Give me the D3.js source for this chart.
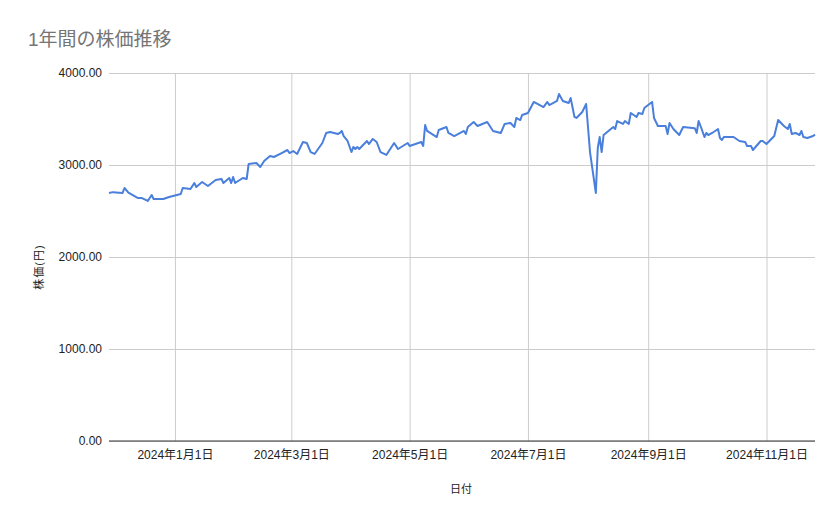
<!DOCTYPE html>
<html>
<head>
<meta charset="utf-8">
<script src="https://cdn.jsdelivr.net/npm/d3@7"></script>
<style>
  body { margin: 0; background: #fff; }
  text { font-family: "Liberation Sans", Arial, "Noto Sans CJK JP", sans-serif; }
</style>
</head>
<body>
<div id="chart"></div>
<script>
// 1年間の株価推移
var chartTitle = "1年間の株価推移";
var xTitle = "日付";
var yTitle = "株価(円)";

var dates = [
  "2023-11-28","2023-11-30","2023-12-05","2023-12-06","2023-12-08","2023-12-13","2023-12-15","2023-12-18",
  "2023-12-20","2023-12-21","2023-12-26","2023-12-29","2024-01-04","2024-01-05","2024-01-09","2024-01-11",
  "2024-01-12","2024-01-15","2024-01-18","2024-01-22","2024-01-25","2024-01-26","2024-01-29","2024-01-30",
  "2024-01-31","2024-02-01","2024-02-05","2024-02-07","2024-02-08","2024-02-12","2024-02-14","2024-02-16",
  "2024-02-19","2024-02-21","2024-02-25","2024-02-28","2024-02-29","2024-03-02","2024-03-04","2024-03-07",
  "2024-03-09","2024-03-11","2024-03-13","2024-03-17","2024-03-19","2024-03-21","2024-03-25","2024-03-26",
  "2024-03-27","2024-03-28","2024-03-30","2024-04-01","2024-04-02","2024-04-03","2024-04-04","2024-04-05",
  "2024-04-09","2024-04-10","2024-04-12","2024-04-14","2024-04-16","2024-04-19","2024-04-23","2024-04-25",
  "2024-04-30","2024-05-01","2024-05-07","2024-05-08","2024-05-09","2024-05-10","2024-05-15","2024-05-16",
  "2024-05-20","2024-05-21","2024-05-24","2024-05-29","2024-05-30","2024-05-31","2024-06-03","2024-06-05",
  "2024-06-10","2024-06-13","2024-06-17","2024-06-19","2024-06-22","2024-06-24","2024-06-25","2024-06-27",
  "2024-06-28","2024-07-01","2024-07-04","2024-07-09","2024-07-11","2024-07-12","2024-07-16","2024-07-17",
  "2024-07-19","2024-07-22","2024-07-23","2024-07-25","2024-07-26","2024-07-29","2024-07-31","2024-08-02",
  "2024-08-05","2024-08-06","2024-08-07","2024-08-08","2024-08-09","2024-08-14","2024-08-15","2024-08-16",
  "2024-08-19","2024-08-20","2024-08-22","2024-08-23","2024-08-26","2024-08-27","2024-08-29","2024-08-30",
  "2024-09-03","2024-09-04","2024-09-06","2024-09-10","2024-09-11","2024-09-12","2024-09-14","2024-09-17",
  "2024-09-19","2024-09-25","2024-09-26","2024-09-27","2024-09-28","2024-09-30","2024-10-01","2024-10-02",
  "2024-10-04","2024-10-07","2024-10-08","2024-10-09","2024-10-10","2024-10-15","2024-10-18","2024-10-21",
  "2024-10-22","2024-10-24","2024-10-25","2024-10-29","2024-10-30","2024-11-01","2024-11-05","2024-11-07",
  "2024-11-10","2024-11-12","2024-11-13","2024-11-14","2024-11-16","2024-11-18","2024-11-19","2024-11-20",
  "2024-11-22","2024-11-25","2024-11-26"
];

var prices = [
  2696,2705,2696,2750,2700,2641,2641,2609,
  2674,2630,2630,2652,2685,2750,2739,2804,
  2761,2815,2772,2837,2848,2804,2859,2804,
  2870,2804,2859,2848,3011,3022,2978,3043,
  3098,3087,3130,3163,3130,3152,3120,3250,
  3239,3141,3120,3239,3348,3359,3337,3348,
  3370,3315,3261,3141,3196,3174,3196,3174,
  3261,3228,3283,3250,3141,3109,3239,3174,
  3239,3207,3250,3207,3435,3370,3304,3380,
  3413,3348,3315,3370,3337,3413,3467,3424,
  3467,3370,3348,3446,3457,3413,3511,3489,
  3543,3565,3685,3630,3685,3652,3696,3772,
  3696,3674,3728,3522,3511,3576,3663,3141,
  2696,3185,3304,3141,3326,3413,3391,3478,
  3446,3478,3446,3565,3522,3565,3554,3620,
  3685,3511,3424,3424,3337,3457,3391,3326,
  3413,3400,3348,3478,3424,3304,3348,3326,
  3348,3391,3293,3272,3304,3304,3261,3250,
  3207,3207,3163,3261,3261,3228,3315,3489,
  3424,3391,3446,3337,3348,3326,3370,3304,
  3293,3315,3330
];

var yTicks = [0, 1000, 2000, 3000, 4000];

var W = 839, H = 519;
var parse = d3.timeParse("%Y-%m-%d");
var data = dates.map(function(d, i){ return { date: parse(d), price: prices[i] }; });

var svg = d3.select("#chart").append("svg").attr("width", W).attr("height", H);

var x = d3.scaleTime()
    .domain([parse("2023-11-28"), parse("2024-11-26")])
    .range([109, 815]);
var y = d3.scaleLinear().domain([0, 4000]).range([441, 73]);

// title
svg.append("text")
    .attr("x", 28).attr("y", 46)
    .attr("fill", "#757575")
    .style("font-size", "19px")
    .text(chartTitle);

// horizontal grid + labels
var yAxis = svg.append("g").attr("transform", "translate(109,0)")
    .call(d3.axisLeft(y).tickValues(yTicks).tickFormat(d3.format(".2f"))
        .tickSize(-706).tickPadding(7));
yAxis.select(".domain").remove();
yAxis.selectAll(".tick line").attr("stroke", "#cccccc");
yAxis.selectAll(".tick text").attr("fill", "#222").style("font-size", "12px");

// vertical grid + labels
var fmt = function(d){ return d.getFullYear() + "年" + (d.getMonth() + 1) + "月" + d.getDate() + "日"; };
var xAxis = svg.append("g").attr("transform", "translate(0,441)")
    .call(d3.axisBottom(x).ticks(d3.timeMonth.filter(function(d){ return d.getMonth() % 2 === 0; }))
        .tickFormat(fmt).tickSize(-368).tickPadding(9));
xAxis.select(".domain").remove();
xAxis.selectAll(".tick line").attr("stroke", "#cccccc");
xAxis.selectAll(".tick text").attr("fill", "#222").style("font-size", "12px");

// baseline
svg.append("line")
    .attr("x1", 109).attr("x2", 815)
    .attr("y1", y(0)).attr("y2", y(0))
    .attr("stroke", "#333").attr("stroke-width", 1);

// price line
var line = d3.line()
    .x(function(d){ return x(d.date); })
    .y(function(d){ return y(d.price); });

svg.append("path")
    .datum(data)
    .attr("d", line)
    .attr("fill", "none")
    .attr("stroke", "#4a7fdb")
    .attr("stroke-width", 2)
    .attr("stroke-linejoin", "round");

// axis titles
svg.append("text")
    .attr("x", 461).attr("y", 493)
    .attr("text-anchor", "middle")
    .attr("fill", "#222")
    .style("font-size", "11px")
    .text(xTitle);

svg.append("text")
    .attr("transform", "translate(43,267) rotate(-90)")
    .attr("text-anchor", "middle")
    .attr("fill", "#222")
    .style("font-size", "11px")
    .style("letter-spacing", "1px")
    .text(yTitle);
</script>
</body>
</html>
